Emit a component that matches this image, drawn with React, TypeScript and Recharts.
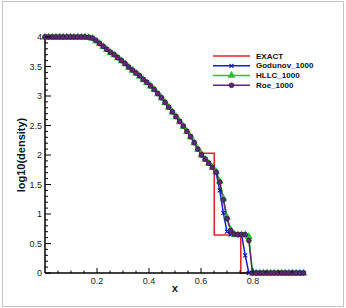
import React from 'react';
import { LineChart, Line, XAxis, YAxis, Legend, Label } from 'recharts';

// x positions of the numerical cells shown (markers)
const X_GRID = [
  0, 0.014, 0.028, 0.042, 0.056, 0.07, 0.084, 0.098, 0.112, 0.126,
  0.14, 0.154, 0.168, 0.182, 0.196, 0.21, 0.224, 0.238, 0.252, 0.266,
  0.28, 0.294, 0.308, 0.322, 0.336, 0.35, 0.364, 0.378, 0.392, 0.406,
  0.42, 0.434, 0.448, 0.462, 0.476, 0.49, 0.504, 0.518, 0.532, 0.546,
  0.56, 0.574, 0.588, 0.602, 0.616, 0.63, 0.644, 0.658, 0.672, 0.686,
  0.7, 0.714, 0.728, 0.742, 0.756, 0.77, 0.784, 0.798, 0.812, 0.826,
  0.84, 0.854, 0.868, 0.882, 0.896, 0.91, 0.924, 0.938, 0.952, 0.966,
  0.98, 0.994,
];

const ROE = [
  4, 4, 4, 4, 4, 4, 4, 4, 4, 4,
  4, 4, 3.995, 3.98, 3.94, 3.89, 3.84, 3.79, 3.74, 3.7,
  3.65, 3.6, 3.55, 3.49, 3.44, 3.39, 3.34, 3.28, 3.23, 3.17,
  3.11, 3.04, 2.97, 2.89, 2.81, 2.73, 2.65, 2.57, 2.49, 2.4,
  2.31, 2.21, 2.1, 2.0, 1.93, 1.86, 1.79, 1.71, 1.54, 1.24,
  0.92, 0.72, 0.66, 0.65, 0.65, 0.65, 0.55, 0, 0, 0,
  0, 0, 0, 0, 0, 0, 0, 0, 0, 0,
  0, 0,
];

const HLLC = [
  4, 4, 4, 4, 4, 4, 4, 4, 4, 4,
  4, 4, 3.995, 3.98, 3.94, 3.89, 3.84, 3.79, 3.74, 3.7,
  3.65, 3.6, 3.55, 3.49, 3.44, 3.39, 3.34, 3.28, 3.23, 3.17,
  3.11, 3.04, 2.97, 2.89, 2.81, 2.73, 2.65, 2.57, 2.49, 2.4,
  2.31, 2.21, 2.1, 2.0, 1.93, 1.86, 1.79, 1.72, 1.56, 1.27,
  0.95, 0.74, 0.66, 0.65, 0.65, 0.65, 0.62, 0, 0, 0,
  0, 0, 0, 0, 0, 0, 0, 0, 0, 0,
  0, 0,
];

const GODUNOV = [
  4, 4, 4, 4, 4, 4, 4, 4, 4, 4,
  4, 4, 3.995, 3.98, 3.94, 3.89, 3.84, 3.79, 3.74, 3.7,
  3.65, 3.6, 3.55, 3.49, 3.44, 3.39, 3.34, 3.28, 3.23, 3.17,
  3.11, 3.04, 2.97, 2.89, 2.81, 2.73, 2.65, 2.57, 2.49, 2.4,
  2.31, 2.21, 2.1, 2.0, 1.93, 1.86, 1.79, 1.7, 1.4, 1.02,
  0.7, 0.65, 0.65, 0.65, 0.65, 0.3, 0, 0, 0, 0,
  0, 0, 0, 0, 0, 0, 0, 0, 0, 0,
  0, 0,
];

// exact solution (step corners listed twice for vertical jumps)
const EXACT_X = [0, 0.17, 0.2, 0.25, 0.3, 0.35, 0.4, 0.45, 0.5, 0.55, 0.58, 0.609, 0.651, 0.651, 0.753, 0.753, 1.0];
const EXACT_Y = [4, 4, 3.93, 3.75, 3.57, 3.39, 3.2, 2.96, 2.67, 2.37, 2.16, 2.03, 2.03, 0.644, 0.644, 0, 0];

const X_MAJOR = [0.2, 0.4, 0.6, 0.8];
const X_MINOR = [0.05, 0.1, 0.15, 0.25, 0.3, 0.35, 0.45, 0.5, 0.55, 0.65, 0.7, 0.75, 0.85, 0.9, 0.95];
const Y_MAJOR = [0, 0.5, 1, 1.5, 2, 2.5, 3, 3.5, 4];
const Y_MINOR = [
  0.1, 0.2, 0.3, 0.4, 0.6, 0.7, 0.8, 0.9, 1.1, 1.2, 1.3, 1.4, 1.6, 1.7, 1.8, 1.9,
  2.1, 2.2, 2.3, 2.4, 2.6, 2.7, 2.8, 2.9, 3.1, 3.2, 3.3, 3.4, 3.6, 3.7, 3.8, 3.9,
];

const SERIES_NAMES = ['EXACT', 'Godunov_1000', 'HLLC_1000', 'Roe_1000'];
const COLORS: Record<string, string> = {
  EXACT: '#e3262b',
  Godunov_1000: '#1a1ad2',
  HLLC_1000: '#20c820',
  Roe_1000: '#5e2a74',
};

const FONT = '"Liberation Sans", Arial, Helvetica, sans-serif';

const exactData = EXACT_X.map((x, i) => ({ x, y: EXACT_Y[i] }));
const godData = X_GRID.map((x, i) => ({ x, y: GODUNOV[i] }));
const hllcData = X_GRID.map((x, i) => ({ x, y: HLLC[i] }));
const roeData = X_GRID.map((x, i) => ({ x, y: ROE[i] }));

const isMajor = (v: number, list: number[]) => list.some((m) => Math.abs(m - v) < 1e-9);

function CrossMark(cx: number, cy: number, color: string, key?: any) {
  return (
    <g key={key}>
      <line x1={cx - 2} y1={cy - 2} x2={cx + 2} y2={cy + 2} stroke={color} strokeWidth={1.1} />
      <line x1={cx - 2} y1={cy + 2} x2={cx + 2} y2={cy - 2} stroke={color} strokeWidth={1.1} />
    </g>
  );
}
function TriMark(cx: number, cy: number, color: string, key?: any) {
  return <path key={key} d={`M${cx},${cy - 4.4} L${cx + 3.9},${cy + 2.6} L${cx - 3.9},${cy + 2.6} Z`} fill={color} stroke="none" />;
}
function CircMark(cx: number, cy: number, color: string, key?: any) {
  return <circle key={key} cx={cx} cy={cy} r={2.4} fill={color} stroke="#3c1050" strokeWidth={0.8} />;
}

const renderXTick = (props: any) => {
  const { x, y, payload } = props;
  const v = payload.value;
  const major = isMajor(v, X_MAJOR);
  return (
    <g>
      <line x1={x} x2={x} y1={y} y2={y - (major ? 5 : 2.5)} stroke="#000" strokeWidth={1} />
      {major && (
        <text x={x} y={y + 10.5} textAnchor="middle" fontSize={9} fontFamily={FONT} fill="#222">
          {String(v)}
        </text>
      )}
    </g>
  );
};

const renderYTick = (props: any) => {
  const { x, y, payload } = props;
  const v = payload.value;
  const major = isMajor(v, Y_MAJOR);
  return (
    <g>
      <line x1={x} x2={x + (major ? 6 : 3)} y1={y} y2={y} stroke="#000" strokeWidth={1} />
      {major && (
        <text x={x - 3} y={y} textAnchor="end" dominantBaseline="central" fontSize={9} fontFamily={FONT} fill="#222">
          {String(v)}
        </text>
      )}
    </g>
  );
};

const renderXLabel = (props: any) => {
  const vb = props.viewBox;
  return (
    <text x={vb.x + vb.width / 2} y={vb.y + 19} textAnchor="middle" fontSize={10.5} fontWeight="bold" fontFamily={FONT} fill="#111">
      x
    </text>
  );
};

const renderYLabel = (props: any) => {
  const vb = props.viewBox;
  const cx = vb.x + 21;
  const cy = vb.y + vb.height / 2;
  return (
    <text x={cx} y={cy} textAnchor="middle" dominantBaseline="central" fontSize={11} fontWeight="bold" fontFamily={FONT} fill="#111" transform={`rotate(-90, ${cx}, ${cy})`}>
      log10(density)
    </text>
  );
};

const renderLegend = (props: any) => {
  const payload = props.payload || [];
  return (
    <svg width={120} height={44} style={{ display: 'block' }}>
      {payload.map((entry: any, i: number) => {
        const name = entry.value;
        const color = COLORS[name] || entry.color;
        const y = 8 + i * 9.77;
        let mark = null;
        if (name === 'Godunov_1000') mark = CrossMark(21.5, y, '#1010a8');
        if (name === 'HLLC_1000') mark = TriMark(21.5, y - 0.5, color);
        if (name === 'Roe_1000') mark = CircMark(21.5, y, color);
        return (
          <g key={name}>
            <line x1={3} x2={40} y1={y} y2={y} stroke={color} strokeWidth={1.6} />
            {mark}
            <text x={46} y={y} dominantBaseline="central" fontSize={8} fontWeight="bold" fontFamily={FONT} fill="#111">
              {name}
            </text>
          </g>
        );
      })}
    </svg>
  );
};

export default function App() {
  return (
    <div style={{ position: 'absolute', left: 0, top: 0, width: 346, height: 308, background: '#fff' }}>
      <div style={{ position: 'absolute', left: 2, top: 1, width: 340, height: 304, border: '1px solid #c4c4c4' }} />
      <div style={{ position: 'absolute', left: 0, top: 0 }}>
        <LineChart width={346} height={308} margin={{ top: 37, right: 41, left: 0, bottom: 0 }}>
          <XAxis
            dataKey="x"
            type="number"
            domain={[0, 1]}
            ticks={[...X_MAJOR, ...X_MINOR].sort((a, b) => a - b)}
            interval={0}
            tickSize={0}
            tickMargin={0}
            tickLine={false}
            tick={renderXTick}
            axisLine={{ stroke: '#000', strokeWidth: 1.5 }}
            height={35}
          >
            <Label content={renderXLabel} />
          </XAxis>
          <YAxis
            type="number"
            domain={[0, 4]}
            ticks={[...Y_MAJOR, ...Y_MINOR].sort((a, b) => a - b)}
            interval={0}
            tickSize={0}
            tickMargin={0}
            tickLine={false}
            tick={renderYTick}
            axisLine={{ stroke: '#000', strokeWidth: 1.5 }}
            width={45}
          >
            <Label content={renderYLabel} />
          </YAxis>
          <Legend
            layout="horizontal"
            verticalAlign="middle"
            align="center"
            content={renderLegend}
            wrapperStyle={{ left: 210, top: 48, width: 120, height: 44 }}
          />
          <Line
            name={SERIES_NAMES[0]}
            data={exactData}
            dataKey="y"
            type="linear"
            stroke={COLORS.EXACT}
            strokeWidth={1.6}
            dot={false}
            activeDot={false}
            isAnimationActive={false}
          />
          <Line
            name={SERIES_NAMES[1]}
            data={godData}
            dataKey="y"
            type="linear"
            stroke={COLORS.Godunov_1000}
            strokeWidth={1.5}
            dot={(p: any) => CrossMark(p.cx, p.cy, '#1010a8', `g${p.index}`)}
            activeDot={false}
            isAnimationActive={false}
          />
          <Line
            name={SERIES_NAMES[2]}
            data={hllcData}
            dataKey="y"
            type="linear"
            stroke={COLORS.HLLC_1000}
            strokeWidth={1.5}
            dot={(p: any) => TriMark(p.cx, p.cy, COLORS.HLLC_1000, `h${p.index}`)}
            activeDot={false}
            isAnimationActive={false}
          />
          <Line
            name={SERIES_NAMES[3]}
            data={roeData}
            dataKey="y"
            type="linear"
            stroke={COLORS.Roe_1000}
            strokeWidth={1.5}
            dot={(p: any) => CircMark(p.cx, p.cy, COLORS.Roe_1000, `r${p.index}`)}
            activeDot={false}
            isAnimationActive={false}
          />
        </LineChart>
      </div>
    </div>
  );
}
